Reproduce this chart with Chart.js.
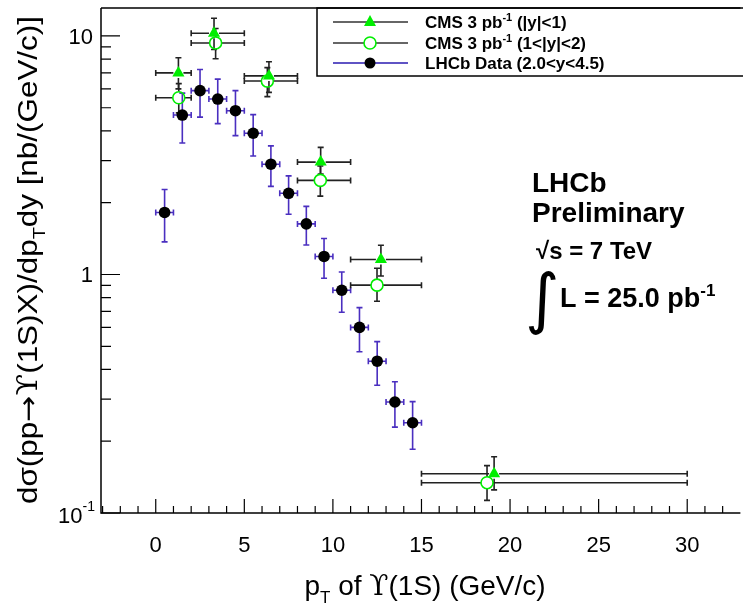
<!DOCTYPE html>
<html>
<head>
<meta charset="utf-8">
<script src="https://cdn.jsdelivr.net/npm/chart.js@4.4.1/dist/chart.umd.min.js"></script>
<style>
  html, body { margin: 0; padding: 0; background: #fff; overflow: hidden; }
  #wrap { position: relative; width: 743px; height: 611px; }
</style>
</head>
<body>
<div id="wrap"><canvas id="c" width="743" height="611"></canvas></div>
<script>
// LHCb: 1 GeV/c bins from 0 to 15
const lhcbPt    = [0.5, 1.5, 2.5, 3.5, 4.5, 5.5, 6.5, 7.5, 8.5, 9.5, 10.5, 11.5, 12.5, 13.5, 14.5];
const lhcbHalfW = [0.5, 0.5, 0.5, 0.5, 0.5, 0.5, 0.5, 0.5, 0.5, 0.5, 0.5, 0.5, 0.5, 0.5, 0.5];
const lhcbXsec  = [1.82, 4.66, 5.90, 5.44, 4.86, 3.91, 2.90, 2.19, 1.63, 1.19, 0.859, 0.600, 0.433, 0.292, 0.239];
const lhcbErr   = [0.45, 1.10, 1.33, 1.15, 1.04, 0.77, 0.56, 0.40, 0.30, 0.225, 0.165, 0.126, 0.090, 0.063, 0.054];

// CMS bins (GeV/c)
const cmsBinLo = [0, 2, 5, 8, 11, 15];
const cmsBinHi = [2, 5, 8, 11, 15, 30];

// CMS |y|<1
const cms1Pt    = [1.28, 3.29, 6.39, 9.31, 12.71, 19.1];
const cms1Xsec  = [7.0, 10.27, 6.8, 2.96, 1.156, 0.146];
const cms1ErrHi = [1.1, 1.6, 1.0, 0.45, 0.17, 0.026];
const cms1ErrLo = [1.0, 1.5, 1.0, 0.32, 0.17, 0.021];

// CMS 1<|y|<2
const cms2Pt    = [1.30, 3.38, 6.30, 9.29, 12.49, 18.7];
const cms2Xsec  = [5.51, 9.35, 6.47, 2.48, 0.902, 0.134];
const cms2ErrHi = [0.8, 1.4, 0.9, 0.37, 0.16, 0.024];
const cms2ErrLo = [0.75, 1.32, 0.9, 0.35, 0.13, 0.021];

const xMajorTicks = [0, 5, 10, 15, 20, 25, 30];
const yMajorTicks = [0.1, 1, 10];

const GREEN = '#00ee00';
const LHCB_BAR = '#4a2fc0';
const CMS_BAR = '#222222';
const FONT = '"Liberation Sans", Arial, Helvetica, sans-serif';
const SERIF = '"DejaVu Serif", "Liberation Serif", serif';

function pts(xs, ys) { return xs.map((x, i) => ({ x: x, y: ys[i] })); }

// error bars with a gap around the marker, drawn under the markers
const errorBars = {
  id: 'errorBars',
  beforeDatasetsDraw(chart) {
    const { ctx, scales: { x, y } } = chart;
    const sets = [
      { xs: lhcbPt, ys: lhcbXsec, xl: lhcbPt.map((v, i) => v - lhcbHalfW[i]), xh: lhcbPt.map((v, i) => v + lhcbHalfW[i]),
        yl: lhcbXsec.map((v, i) => v - lhcbErr[i]), yh: lhcbXsec.map((v, i) => v + lhcbErr[i]), color: LHCB_BAR, gap: 5 },
      { xs: cms2Pt, ys: cms2Xsec, xl: cmsBinLo, xh: cmsBinHi,
        yl: cms2Xsec.map((v, i) => v - cms2ErrLo[i]), yh: cms2Xsec.map((v, i) => v + cms2ErrHi[i]), color: CMS_BAR, gap: 6 },
      { xs: cms1Pt, ys: cms1Xsec, xl: cmsBinLo, xh: cmsBinHi,
        yl: cms1Xsec.map((v, i) => v - cms1ErrLo[i]), yh: cms1Xsec.map((v, i) => v + cms1ErrHi[i]), color: CMS_BAR, gap: 5 }
    ];
    ctx.save();
    ctx.lineWidth = 1.6;
    const cap = 3;
    for (const s of sets) {
      ctx.strokeStyle = s.color;
      for (let i = 0; i < s.xs.length; i++) {
        const px = x.getPixelForValue(s.xs[i]);
        const py = y.getPixelForValue(s.ys[i]);
        const pxl = x.getPixelForValue(s.xl[i]);
        const pxh = x.getPixelForValue(s.xh[i]);
        const pyl = y.getPixelForValue(s.yl[i]);
        const pyh = y.getPixelForValue(s.yh[i]);
        ctx.beginPath();
        if (px - pxl > s.gap) { ctx.moveTo(pxl, py); ctx.lineTo(px - s.gap, py); ctx.moveTo(pxl, py - cap); ctx.lineTo(pxl, py + cap); }
        if (pxh - px > s.gap) { ctx.moveTo(px + s.gap, py); ctx.lineTo(pxh, py); ctx.moveTo(pxh, py - cap); ctx.lineTo(pxh, py + cap); }
        if (pyl - py > s.gap) { ctx.moveTo(px, py + s.gap); ctx.lineTo(px, pyl); ctx.moveTo(px - cap, pyl); ctx.lineTo(px + cap, pyl); }
        if (py - pyh > s.gap) { ctx.moveTo(px, py - s.gap); ctx.lineTo(px, pyh); ctx.moveTo(px - cap, pyh); ctx.lineTo(px + cap, pyh); }
        ctx.stroke();
      }
    }
    ctx.restore();
  }
};

// text runs with sub/superscripts: parts = [[text, 'n'|'sub'|'sup', family?], ...]
function runFont(k, size, weight, fam) {
  return (weight ? weight + ' ' : '') + (k === 'n' ? size : Math.round(size * 0.62)) + 'px ' + (fam || FONT);
}
function richWidth(ctx, parts, size, weight) {
  let total = 0;
  for (const [t, k, f] of parts) { ctx.font = runFont(k, size, weight, f); total += ctx.measureText(t).width; }
  return total;
}
function drawRich(ctx, parts, x, y, size, weight, align) {
  const total = richWidth(ctx, parts, size, weight);
  let cx = align === 'center' ? x - total / 2 : x;
  ctx.textAlign = 'left';
  for (const [t, k, f] of parts) {
    ctx.font = runFont(k, size, weight, f);
    const dy = k === 'sup' ? -size * 0.42 : (k === 'sub' ? size * 0.28 : 0);
    ctx.fillText(t, cx, y + dy);
    cx += ctx.measureText(t).width;
  }
  return total;
}

const frame = {
  id: 'frame',
  afterDraw(chart) {
    const { ctx, chartArea: a, scales: { x, y } } = chart;
    ctx.save();
    ctx.strokeStyle = '#000';
    ctx.fillStyle = '#000';
    ctx.lineWidth = 1.5;
    // frame lines
    ctx.beginPath();
    ctx.moveTo(a.left, a.top); ctx.lineTo(a.left, a.bottom); ctx.lineTo(a.right + 5, a.bottom);
    ctx.moveTo(a.left, a.top); ctx.lineTo(a.right + 5, a.top);
    ctx.stroke();

    // x ticks (pointing into the frame)
    ctx.lineWidth = 1.2;
    ctx.beginPath();
    for (let v = Math.ceil(x.min); v <= x.max; v++) {
      const px = x.getPixelForValue(v);
      const len = (v % 5 === 0) ? 14 : 7;
      ctx.moveTo(px, a.bottom); ctx.lineTo(px, a.bottom - len);
    }
    // y ticks
    for (let d = -1; d <= 1; d++) {
      for (let m = 1; m <= 9; m++) {
        const v = m * Math.pow(10, d);
        if (v < y.min || v > y.max) continue;
        const py = y.getPixelForValue(v);
        const len = (m === 1) ? 19 : 10;
        ctx.moveTo(a.left, py); ctx.lineTo(a.left + len, py);
      }
    }
    ctx.stroke();

    // x tick labels
    ctx.textBaseline = 'alphabetic';
    ctx.font = '22px ' + FONT;
    ctx.textAlign = 'center';
    for (const v of xMajorTicks) ctx.fillText(String(v), x.getPixelForValue(v), a.bottom + 39);

    // y tick labels
    ctx.textAlign = 'right';
    const yl = y.getPixelForValue(yMajorTicks[2]); ctx.font = '22px ' + FONT; ctx.fillText('10', a.left - 8, yl + 8);
    const y1 = y.getPixelForValue(yMajorTicks[1]); ctx.fillText('1', a.left - 8, y1 + 8);
    const y01 = y.getPixelForValue(yMajorTicks[0]);
    ctx.font = '14px ' + FONT; const supW = ctx.measureText('-1').width;
    ctx.fillText('-1', a.left - 6, y01 - 2);
    ctx.font = '22px ' + FONT; ctx.fillText('10', a.left - 6 - supW, y01 + 10);

    // axis titles
    ctx.fillStyle = '#000';
    drawRich(ctx, [['p', 'n'], ['T', 'sub'], [' of ', 'n'], ['\u03D2', 'n', SERIF], ['(1S) (GeV/c)', 'n']], 425, 595, 28, '', 'center');
    const yTitle = [['d\u03C3(pp', 'n'], ['\u2192', 'n', '"DejaVu Sans", sans-serif'], ['\u03D2', 'n', SERIF],
                    ['(1S)X)/dp', 'n'], ['T', 'sub'], ['dy [nb/(GeV/c)]', 'n']];
    const ySize = 27;
    const yW = richWidth(ctx, yTitle, ySize, '');
    ctx.save();
    ctx.translate(37, 260);
    ctx.rotate(-Math.PI / 2);
    ctx.scale(488 / yW, 1);
    drawRich(ctx, yTitle, 0, 0, ySize, '', 'center');
    ctx.restore();

    // legend box
    ctx.lineWidth = 1.5;
    ctx.strokeStyle = '#000';
    ctx.strokeRect(317, 8, 460, 68);
    const rows = [
      { yy: 22, color: '#333', marker: 'tri', text: [['CMS 3 pb', 'n'], ['-1', 'sup'], [' (|y|<1)', 'n']] },
      { yy: 43, color: '#333', marker: 'open', text: [['CMS 3 pb', 'n'], ['-1', 'sup'], [' (1<|y|<2)', 'n']] },
      { yy: 63, color: '#2a1ab0', marker: 'dot', text: [['LHCb Data (2.0<y<4.5)', 'n']] }
    ];
    for (const r of rows) {
      ctx.strokeStyle = r.color; ctx.lineWidth = 1.4;
      ctx.beginPath(); ctx.moveTo(333, r.yy); ctx.lineTo(408, r.yy); ctx.stroke();
      const mx = 370;
      if (r.marker === 'tri') {
        ctx.fillStyle = GREEN; ctx.beginPath();
        ctx.moveTo(mx, r.yy - 7); ctx.lineTo(mx + 6, r.yy + 4); ctx.lineTo(mx - 6, r.yy + 4); ctx.closePath(); ctx.fill();
      } else if (r.marker === 'open') {
        ctx.fillStyle = '#fff'; ctx.strokeStyle = GREEN; ctx.lineWidth = 1.6;
        ctx.beginPath(); ctx.arc(mx, r.yy, 6, 0, Math.PI * 2); ctx.fill(); ctx.stroke();
      } else {
        ctx.fillStyle = '#000'; ctx.beginPath(); ctx.arc(mx, r.yy, 5.5, 0, Math.PI * 2); ctx.fill();
      }
      ctx.fillStyle = '#000';
      drawRich(ctx, r.text, 425, r.yy + 6, 17, 'bold', 'left');
    }

    // annotation
    ctx.fillStyle = '#000';
    ctx.font = 'bold 28px ' + FONT; ctx.textAlign = 'left';
    ctx.fillText('LHCb', 532, 192);
    ctx.fillText('Preliminary', 532, 222);
    ctx.font = 'bold 24px ' + FONT;
    ctx.fillText('\u221As = 7 TeV', 536, 259);
    ctx.font = '66px "DejaVu Sans", sans-serif';
    ctx.fillText('\u222B', 525, 321);
    drawRich(ctx, [['L = 25.0 pb', 'n'], ['-1', 'sup']], 560, 307, 27, 'bold', 'left');
    ctx.restore();
  }
};

const cfg = {
  type: 'scatter',
  data: {
    datasets: [
      { label: 'LHCb Data (2.0<y<4.5)', data: pts(lhcbPt, lhcbXsec), pointStyle: 'circle', pointRadius: 5.8,
        backgroundColor: '#000', borderColor: '#000', borderWidth: 0 },
      { label: 'CMS 3 pb-1 (1<|y|<2)', data: pts(cms2Pt, cms2Xsec), pointStyle: 'circle', pointRadius: 6,
        backgroundColor: 'rgba(255,255,255,0)', borderColor: GREEN, borderWidth: 1.6 },
      { label: 'CMS 3 pb-1 (|y|<1)', data: pts(cms1Pt, cms1Xsec), pointStyle: 'triangle', pointRadius: 7,
        backgroundColor: GREEN, borderColor: GREEN, borderWidth: 0 }
    ]
  },
  options: {
    responsive: false,
    animation: false,
    events: [],
    layout: { padding: { top: 8, right: 0, left: 0, bottom: 0 } },
    plugins: { legend: { display: false }, tooltip: { enabled: false } },
    scales: {
      x: {
        type: 'linear', min: -3.09, max: 32.72,
        grid: { display: false }, border: { display: false },
        ticks: { display: false },
        afterFit(s) { s.height = 98; }
      },
      y: {
        type: 'logarithmic', min: 0.1, max: 13.1,
        grid: { display: false }, border: { display: false },
        ticks: { display: false },
        afterFit(s) { s.width = 101; }
      }
    }
  },
  plugins: [errorBars, frame]
};

new Chart(document.getElementById('c'), cfg);
</script>
</body>
</html>
